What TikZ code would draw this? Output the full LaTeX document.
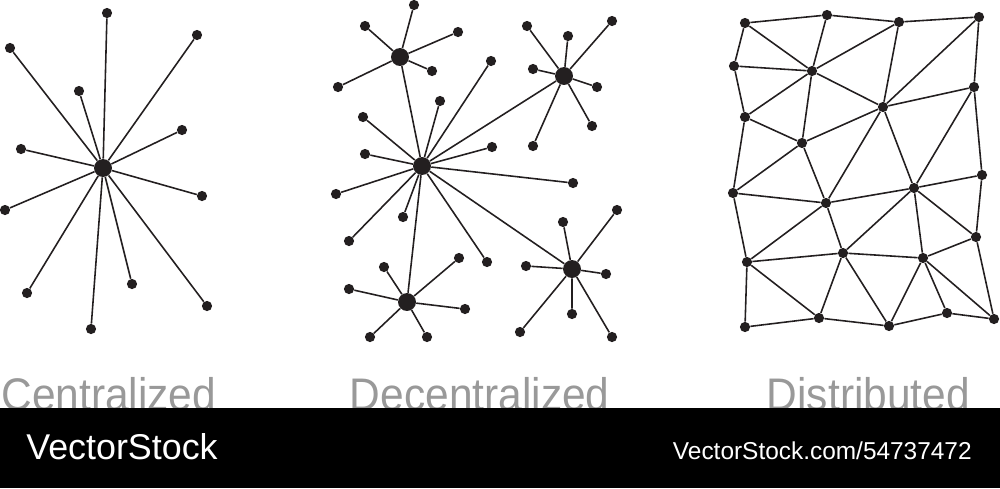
\documentclass[tikz,border=0pt]{standalone}
\usepackage{fontspec}
\newfontfamily\captionfont[FakeStretch=0.93]{Liberation Sans}
\newfontfamily\stockfont{Liberation Sans}
\definecolor{netblack}{HTML}{231F20}
\definecolor{capgray}{HTML}{999999}
\tikzset{
  dot/.style={circle,fill=netblack,inner sep=0pt,minimum size=5.8pt},
  hub/.style={circle,fill=netblack,inner sep=0pt,minimum size=10.2pt},
  link/.style={draw=netblack,line width=0.9pt},
  caption/.style={anchor=base west,inner sep=0pt,text=capgray,font=\captionfont\fontsize{26}{30}\selectfont}
}
\begin{document}
\begin{tikzpicture}[x=0.02cm,y=-0.02cm]
	\useasboundingbox (0,0) rectangle (1000,488);
	% centralized
	\node[hub] (cen) at (103,168) {};
	\node[dot] (cen1) at (107,13) {};
	\node[dot] (cen2) at (197,35) {};
	\node[dot] (cen3) at (10,48) {};
	\node[dot] (cen4) at (79,91) {};
	\node[dot] (cen5) at (182,130) {};
	\node[dot] (cen6) at (21,149) {};
	\node[dot] (cen7) at (202,196) {};
	\node[dot] (cen8) at (5,210) {};
	\node[dot] (cen9) at (27,293) {};
	\node[dot] (cen10) at (132,284) {};
	\node[dot] (cen11) at (207,306) {};
	\node[dot] (cen12) at (91,329) {};
	\draw[link] (cen)--(cen1) (cen)--(cen2) (cen)--(cen3) (cen)--(cen4) (cen)--(cen5) (cen)--(cen6);
	\draw[link] (cen)--(cen7) (cen)--(cen8) (cen)--(cen9) (cen)--(cen10) (cen)--(cen11) (cen)--(cen12);
	% decentralized
	\node[hub] (dec) at (422,166) {};
	\node[hub] (decA) at (400,57) {};
	\node[hub] (decB) at (564,76) {};
	\node[hub] (decC) at (407,302) {};
	\node[hub] (decD) at (572,269) {};
	\node[dot] (dec1) at (363,117) {};
	\node[dot] (dec2) at (440,101) {};
	\node[dot] (dec3) at (491,61) {};
	\node[dot] (dec4) at (365,154) {};
	\node[dot] (dec5) at (492,147) {};
	\node[dot] (dec6) at (573,183) {};
	\node[dot] (dec7) at (336,194) {};
	\node[dot] (dec8) at (403,217) {};
	\node[dot] (dec9) at (349,241) {};
	\node[dot] (dec10) at (487,262) {};
	\node[dot] (decA1) at (414,5) {};
	\node[dot] (decA2) at (365,26) {};
	\node[dot] (decA3) at (458,32) {};
	\node[dot] (decA4) at (432,71) {};
	\node[dot] (decA5) at (338,87) {};
	\node[dot] (decB1) at (527,26) {};
	\node[dot] (decB2) at (568,36) {};
	\node[dot] (decB3) at (612,21) {};
	\node[dot] (decB4) at (533,69) {};
	\node[dot] (decB5) at (597,87) {};
	\node[dot] (decB6) at (592,126) {};
	\node[dot] (decB7) at (533,146) {};
	\node[dot] (decC1) at (384,267) {};
	\node[dot] (decC2) at (459,258) {};
	\node[dot] (decC3) at (349,289) {};
	\node[dot] (decC4) at (465,309) {};
	\node[dot] (decC5) at (370,337) {};
	\node[dot] (decC6) at (427,337) {};
	\node[dot] (decD1) at (563,222) {};
	\node[dot] (decD2) at (617,210) {};
	\node[dot] (decD3) at (526,266) {};
	\node[dot] (decD4) at (606,274) {};
	\node[dot] (decD5) at (572,314) {};
	\node[dot] (decD6) at (520,332) {};
	\node[dot] (decD7) at (612,337) {};
	\draw[link] (dec)--(decA) (dec)--(decB) (dec)--(decC) (dec)--(decD);
	\draw[link] (dec)--(dec1) (dec)--(dec2) (dec)--(dec3) (dec)--(dec4) (dec)--(dec5);
	\draw[link] (dec)--(dec6) (dec)--(dec7) (dec)--(dec8) (dec)--(dec9) (dec)--(dec10);
	\draw[link] (decA)--(decA1) (decA)--(decA2) (decA)--(decA3) (decA)--(decA4) (decA)--(decA5);
	\draw[link] (decB)--(decB1) (decB)--(decB2) (decB)--(decB3) (decB)--(decB4) (decB)--(decB5) (decB)--(decB6) (decB)--(decB7);
	\draw[link] (decC)--(decC1) (decC)--(decC2) (decC)--(decC3) (decC)--(decC4) (decC)--(decC5) (decC)--(decC6);
	\draw[link] (decD)--(decD1) (decD)--(decD2) (decD)--(decD3) (decD)--(decD4) (decD)--(decD5) (decD)--(decD6) (decD)--(decD7);
	% distributed
	\node[dot] (dis1) at (745,23) {};
	\node[dot] (dis2) at (827,15) {};
	\node[dot] (dis3) at (899,22) {};
	\node[dot] (dis4) at (979,17) {};
	\node[dot] (dis5) at (734,66) {};
	\node[dot] (dis6) at (812,71) {};
	\node[dot] (dis7) at (974,87) {};
	\node[dot] (dis8) at (883,107) {};
	\node[dot] (dis9) at (745,117) {};
	\node[dot] (dis10) at (802,143) {};
	\node[dot] (dis11) at (982,175) {};
	\node[dot] (dis12) at (914,188) {};
	\node[dot] (dis13) at (733,193) {};
	\node[dot] (dis14) at (826,203) {};
	\node[dot] (dis15) at (976,237) {};
	\node[dot] (dis16) at (843,253) {};
	\node[dot] (dis17) at (923,258) {};
	\node[dot] (dis18) at (747,262) {};
	\node[dot] (dis19) at (819,318) {};
	\node[dot] (dis20) at (889,326) {};
	\node[dot] (dis21) at (947,313) {};
	\node[dot] (dis22) at (994,319) {};
	\node[dot] (dis23) at (745,327) {};
	\draw[link] (dis1)--(dis2)--(dis3)--(dis4);
	\draw[link] (dis1)--(dis5) (dis1)--(dis6) (dis2)--(dis6) (dis3)--(dis6) (dis3)--(dis8);
	\draw[link] (dis4)--(dis8) (dis4)--(dis7) (dis5)--(dis6) (dis5)--(dis9);
	\draw[link] (dis6)--(dis9) (dis6)--(dis10) (dis6)--(dis8);
	\draw[link] (dis7)--(dis8) (dis7)--(dis12) (dis7)--(dis11);
	\draw[link] (dis8)--(dis10) (dis8)--(dis14) (dis8)--(dis12);
	\draw[link] (dis9)--(dis10) (dis9)--(dis13) (dis10)--(dis13) (dis10)--(dis14);
	\draw[link] (dis11)--(dis12) (dis11)--(dis15);
	\draw[link] (dis12)--(dis14) (dis12)--(dis16) (dis12)--(dis15) (dis12)--(dis17);
	\draw[link] (dis13)--(dis14) (dis13)--(dis18) (dis14)--(dis18) (dis14)--(dis16);
	\draw[link] (dis15)--(dis17) (dis15)--(dis22);
	\draw[link] (dis16)--(dis18) (dis16)--(dis17) (dis16)--(dis19) (dis16)--(dis20);
	\draw[link] (dis17)--(dis20) (dis17)--(dis21) (dis17)--(dis22);
	\draw[link] (dis18)--(dis19) (dis18)--(dis23) (dis23)--(dis19)--(dis20)--(dis21)--(dis22);
	% captions
	\node[caption] (cenname) at (1,410) {Centralized};
	\node[caption] (decname) at (349.5,410) {Decentralized};
	\node[caption] (disname) at (766.5,410) {Distributed};
	\fill[black] (0,408) rectangle (1000,488);
	\node[anchor=base west,inner sep=0pt,text=white,font=\stockfont\fontsize{20.4}{24}\selectfont] (stock) at (26,459) {VectorStock};
	\node[anchor=base east,inner sep=0pt,text=white,font=\stockfont\fontsize{13.9}{17}\selectfont] (stockurl) at (972,459) {VectorStock.com/54737472};
\end{tikzpicture}
\end{document}
